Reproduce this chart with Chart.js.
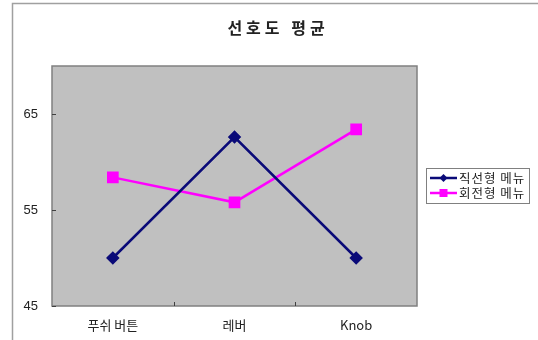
<!DOCTYPE html>
<html>
<head>
<meta charset="utf-8">
<script src="https://cdn.jsdelivr.net/npm/chart.js@4/dist/chart.umd.min.js"></script>
<style>
  html, body { margin: 0; padding: 0; background: #fff; }
  #wrap { width: 538px; height: 340px; position: relative; }
</style>
</head>
<body>
<div id="wrap"><canvas id="c" width="538" height="340"></canvas></div>
<script>
// Chart data
const chartTitle = '선호도 평균';
const categories = ['푸쉬 버튼', '레버', 'Knob'];
const linearMenu = [50, 62.6, 50];      // 직선형 메뉴
const rotaryMenu = [58.4, 55.8, 63.4];  // 회전형 메뉴
const seriesNames = ['직선형 메뉴', '회전형 메뉴'];
const yTicks = [45, 55, 65];

const NAVY = '#0a0a78';
const MAGENTA = '#ff00ff';
const FONT = '"Liberation Sans", "Noto Sans CJK KR", sans-serif';

// Frame, plot background, title, inner tick marks and boxed legend
const decor = {
  id: 'decor',
  beforeDraw(chart) {
    const ctx = chart.ctx;
    const a = chart.chartArea;
    ctx.save();
    ctx.fillStyle = '#ffffff';
    ctx.fillRect(0, 0, chart.width, chart.height);
    // outer frame
    ctx.strokeStyle = '#a0a0a0';
    ctx.lineWidth = 1.5;
    ctx.strokeRect(12.5, 3.5, chart.width + 20, chart.height + 20);
    // plot area
    ctx.fillStyle = '#c0c0c0';
    ctx.fillRect(a.left, a.top, a.right - a.left, a.bottom - a.top);
    ctx.strokeStyle = '#808080';
    ctx.lineWidth = 1.5;
    ctx.strokeRect(a.left, a.top, a.right - a.left, a.bottom - a.top);
    // title
    ctx.fillStyle = '#222';
    ctx.font = 'bold 16px "Noto Sans CJK KR", sans-serif';
    ctx.letterSpacing = '4px';
    ctx.textAlign = 'center';
    ctx.textBaseline = 'middle';
    ctx.fillText(chartTitle, 278, 28);
    ctx.letterSpacing = '0px';
    // inward tick marks
    ctx.strokeStyle = '#404040';
    ctx.lineWidth = 1;
    const ys = chart.scales.y, xs = chart.scales.x;
    yTicks.forEach(v => {
      const py = Math.round(ys.getPixelForValue(v)) + 0.5;
      ctx.beginPath(); ctx.moveTo(a.left, py); ctx.lineTo(a.left + 4, py); ctx.stroke();
    });
    for (let i = 0; i < categories.length - 1; i++) {
      const px = Math.round((xs.getPixelForValue(i) + xs.getPixelForValue(i + 1)) / 2) + 0.5;
      ctx.beginPath(); ctx.moveTo(px, a.bottom); ctx.lineTo(px, a.bottom - 4); ctx.stroke();
    }
    ctx.restore();
  },
  afterDraw(chart) {
    const ctx = chart.ctx;
    const box = { x: 426, y: 168, w: 103, h: 35 };
    ctx.save();
    ctx.strokeStyle = '#808080';
    ctx.lineWidth = 1;
    ctx.strokeRect(box.x + 0.5, box.y + 0.5, box.w, box.h);
    chart.data.datasets.forEach((ds, i) => {
      const cy = box.y + 10 + i * 15;
      ctx.strokeStyle = ds.borderColor;
      ctx.lineWidth = 2.5;
      ctx.beginPath(); ctx.moveTo(box.x + 4, cy); ctx.lineTo(box.x + 31, cy); ctx.stroke();
      ctx.fillStyle = ds.pointBackgroundColor;
      ctx.beginPath();
      if (ds.pointStyle === 'rectRot') {
        ctx.moveTo(box.x + 17.5, cy - 4); ctx.lineTo(box.x + 21.5, cy);
        ctx.lineTo(box.x + 17.5, cy + 4); ctx.lineTo(box.x + 13.5, cy);
        ctx.closePath();
      } else {
        ctx.rect(box.x + 13.5, cy - 4, 8, 8);
      }
      ctx.fill();
      ctx.fillStyle = '#222';
      ctx.font = '12.5px "Noto Sans CJK KR", sans-serif';
      ctx.letterSpacing = '1px';
      ctx.textAlign = 'left';
      ctx.textBaseline = 'middle';
      ctx.fillText(ds.label, box.x + 33, cy + 0.5);
      ctx.letterSpacing = '0px';
    });
    ctx.restore();
  }
};

new Chart(document.getElementById('c'), {
  type: 'line',
  data: {
    labels: categories,
    datasets: [
      {
        label: seriesNames[0],
        data: linearMenu,
        borderColor: NAVY,
        backgroundColor: NAVY,
        pointBackgroundColor: NAVY,
        pointBorderColor: NAVY,
        pointStyle: 'rectRot',
        pointRadius: 5,
        borderWidth: 2.5,
        tension: 0
      },
      {
        label: seriesNames[1],
        data: rotaryMenu,
        borderColor: MAGENTA,
        backgroundColor: MAGENTA,
        pointBackgroundColor: MAGENTA,
        pointBorderColor: MAGENTA,
        pointStyle: 'rect',
        pointRadius: 6.5,
        borderWidth: 2.5,
        tension: 0
      }
    ]
  },
  options: {
    responsive: false,
    animation: false,
    devicePixelRatio: 1,
    layout: { padding: { left: 0, top: 66, right: 121, bottom: 0 } },
    plugins: {
      legend: { display: false },
      title: { display: false },
      tooltip: { enabled: false }
    },
    scales: {
      x: {
        offset: true,
        grid: { display: false, drawTicks: false },
        border: { display: false },
        ticks: {
          color: '#222',
          font: { family: '"Noto Sans CJK KR", sans-serif', size: 13 },
          padding: 11,
          maxRotation: 0
        },
        afterFit(scale) { scale.height = 34; }
      },
      y: {
        min: 45,
        max: 70,
        grid: { display: false, drawTicks: false },
        border: { display: false },
        ticks: {
          color: '#222',
          font: { family: FONT, size: 13 },
          padding: 14
        },
        afterBuildTicks(scale) { scale.ticks = yTicks.map(v => ({ value: v })); },
        afterFit(scale) { scale.width = 52; }
      }
    }
  },
  plugins: [decor]
});
</script>
</body>
</html>
